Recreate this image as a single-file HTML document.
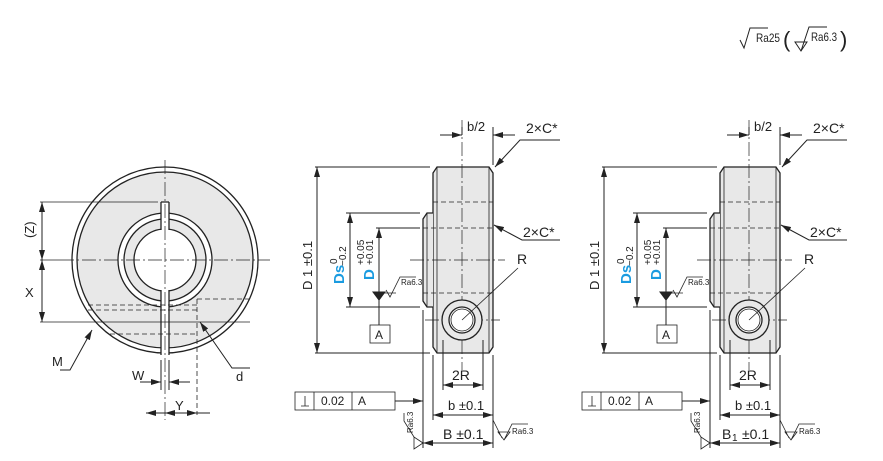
<!DOCTYPE html>
<html><head><meta charset="utf-8"><style>
body{margin:0;background:#fff}
svg{display:block}
text{font-family:"Liberation Sans",sans-serif;fill:#222}
</style></head><body>
<svg width="883" height="461" viewBox="0 0 883 461" xmlns="http://www.w3.org/2000/svg">
<defs>
<marker id="a" viewBox="0 0 10 6" refX="10" refY="3" markerWidth="10" markerHeight="6" orient="auto-start-reverse" markerUnits="userSpaceOnUse"><path d="M0,0L10,3L0,6z" fill="#222"/></marker>
</defs>
<g stroke="#222" fill="none" stroke-width="1">
<path d="M740,40 l4,8 l6,-20 h18"/><text x="756" y="42" font-size="12" stroke="none" textLength="24" lengthAdjust="spacingAndGlyphs">Ra25</text>
<text x="783" y="47" font-size="22" stroke="none">(</text>
<path d="M795,42 h12 l-6,9z M801,51 l8,-24 h18"/><text x="811" y="41" font-size="12" stroke="none" textLength="26" lengthAdjust="spacingAndGlyphs">Ra6.3</text>
<text x="840" y="47" font-size="22" stroke="none">)</text>

<circle cx="165" cy="260" r="93" fill="#fff" stroke-width="1.3"/>
<circle cx="165" cy="260" r="88" fill="#e8e8e8" stroke-width="1.3"/>
<circle cx="165" cy="260" r="47" fill="#fff" stroke-width="1.3"/>
<circle cx="165" cy="260" r="41" fill="#e8e8e8" stroke-width="1.3"/>
<circle cx="165" cy="260" r="31" fill="#fff" stroke-width="1.3"/>
<rect x="161" y="202" width="8" height="28" fill="#fff" stroke="none"/>
<rect x="161" y="290" width="8" height="66" fill="#fff" stroke="none"/>
<path d="M161,202h8 M161,202V230 M169,202V230 M161,290V355 M169,290V355" stroke-width="1.3"/>
<path d="M165,160V420 M60,260H270" stroke-dasharray="14,3,2,3" stroke-width="0.7"/>
<path d="M88,305H197 M88,310H197 M110,334H197 M197,299H250 M197,299V415" stroke-dasharray="5,3" stroke-width="0.8"/>
<path d="M40,322H250 M40,202H158 M40,260H60" stroke-width="0.7"/>
<path d="M42,202V260" marker-start="url(#a)" marker-end="url(#a)"/>
<path d="M42,260V322" marker-start="url(#a)" marker-end="url(#a)"/>
<text x="26" y="234" font-size="13" stroke="none" transform="rotate(-90 32 232)">(Z)</text>
<text x="25" y="297" font-size="13" stroke="none">X</text>
<path d="M60,370H70L92,330" marker-end="url(#a)"/>
<text x="52" y="366" font-size="13" stroke="none">M</text>
<path d="M250,368H232L200,322" marker-end="url(#a)"/>
<text x="236" y="381" font-size="13" stroke="none">d</text>
<path d="M161,360V390 M169,360V390"/>
<path d="M140,382H161" marker-end="url(#a)"/><path d="M190,382H169" marker-end="url(#a)"/>
<text x="132" y="380" font-size="13" stroke="none">W</text>
<path d="M146,413H165" marker-start="url(#a)" marker-end="none"/>
<path d="M165,413H197" marker-start="url(#a)" marker-end="url(#a)"/>
<path d="M197,413H210"/>
<text x="175" y="410" font-size="13" stroke="none">Y</text>

<g id="sv">
<path d="M433,173 l4,-6 h52 l4,6 V347 l-4,6 h-52 l-4,-6z" fill="#e8e8e8" stroke-width="1.3"/>
<path d="M437,167V353 M489,167V353" stroke-width="0.8"/>
<path d="M433,213 h-6 l-4,6 V301 l4,6 h6" fill="#e8e8e8" stroke-width="1.3"/>
<path d="M427,213V307" stroke-width="0.8"/>
<path d="M433,202H493 M423,228H493 M423,293H493" stroke-dasharray="5,3" stroke-width="0.8"/>
<path d="M462,120V370" stroke-dasharray="14,3,2,3" stroke-width="0.7"/>
<path d="M410,260H505 M425,320H500" stroke-dasharray="14,3,2,3" stroke-width="0.7"/>
<circle cx="462" cy="320" r="20" stroke-width="1.3" fill="#e8e8e8"/>
<circle cx="462" cy="320" r="13" stroke-width="1.3" fill="#fff"/>
<circle cx="462" cy="320" r="11" stroke-width="0.8"/>
<path d="M462,320L518,268" stroke-width="0.8"/>
<text x="517" y="264" font-size="14" stroke="none">R</text>
<path d="M493,127V165 M462,127V135"/>
<path d="M440,135H462" marker-end="url(#a)"/><path d="M515,135H493" marker-end="url(#a)"/>
<text x="467" y="131" font-size="13" stroke="none">b/2</text>
<path d="M560,140H520L495,167" marker-end="url(#a)"/>
<text x="526" y="133" font-size="14" stroke="none">2×C*</text>
<path d="M560,240H522L494,225" marker-end="url(#a)"/>
<text x="523" y="237" font-size="14" stroke="none">2×C*</text>
<path d="M315,167H430 M315,353H430 M346,213H420 M346,307H420 M376,228H420"/>
<path d="M317,167V353" marker-start="url(#a)" marker-end="url(#a)"/>
<path d="M350,213V307" marker-start="url(#a)" marker-end="url(#a)"/>
<path d="M379,228V293" marker-start="url(#a)"/>
<path d="M373,292h12l-6,8z" fill="#222"/>
<path d="M379,300V325"/>
<rect x="370" y="325" width="20" height="18" stroke-width="0.8"/>
<text x="375" y="339" font-size="12" stroke="none">A</text>
<path d="M384,293h12 M386,290l4,7l10,-20h16" stroke-width="0.8"/>
<text x="401" y="285" font-size="8" stroke="none">Ra6.3</text>
<text x="312" y="290" font-size="13" stroke="none" transform="rotate(-90 312 290)">D 1 ±0.1</text>
<text x="344" y="284" font-size="15" font-weight="bold" stroke="none" style="fill:#1a9be0" transform="rotate(-90 344 284)">Ds</text>
<text x="337" y="264" font-size="10" stroke="none" transform="rotate(-90 337 264)">0</text>
<text x="346" y="266" font-size="10" stroke="none" transform="rotate(-90 346 266)">−0.2</text>
<text x="374" y="280" font-size="15" font-weight="bold" stroke="none" style="fill:#1a9be0" transform="rotate(-90 374 280)">D</text>
<text x="364" y="265" font-size="10" stroke="none" transform="rotate(-90 364 265)">+0.05</text>
<text x="373" y="265" font-size="10" stroke="none" transform="rotate(-90 373 265)">+0.01</text>
<path d="M443,340V390 M483,340V390 M433,355V420 M493,355V448 M423,310V448"/>
<path d="M443,385H483" marker-start="url(#a)" marker-end="url(#a)"/>
<text x="452" y="380" font-size="14" stroke="none">2R</text>
<path d="M433,415H493" marker-start="url(#a)" marker-end="url(#a)"/>
<text x="448" y="410" font-size="13" stroke="none">b ±0.1</text>
<path d="M423,443H493" marker-start="url(#a)" marker-end="url(#a)"/>
<rect x="295" y="392" width="100" height="18" fill="#fff" stroke-width="0.8"/>
<path d="M314,392V410 M352,392V410 M301,406h8 M305,406v-10" stroke-width="0.8"/>
<text x="321" y="405" font-size="12" stroke="none">0.02</text>
<text x="358" y="405" font-size="12" stroke="none">A</text>
<path d="M395,401H423" marker-end="url(#a)"/>
<path d="M423,443l-9,-6v12z M414,437l-10,-16v-8" stroke-width="0.8"/>
<text x="413" y="433" font-size="8" stroke="none" transform="rotate(-90 413 433)">Ra6.3</text>
<path d="M493,420l9,18 M498,432h12l-6,8z M504,440l8,-16h16" stroke-width="0.8"/>
<text x="512" y="434" font-size="8" stroke="none">Ra6.3</text>
</g>
<text x="443" y="439" font-size="14" stroke="none">B ±0.1</text>
<use href="#sv" transform="translate(287,0)"/>
<rect x="720" y="426" width="50" height="15" fill="#fff" stroke="none"/>
</g>
<text x="722" y="439" font-size="14">B</text><text x="732" y="441" font-size="10">1</text><text x="742" y="439" font-size="14">±0.1</text>
</svg>
</body></html>
